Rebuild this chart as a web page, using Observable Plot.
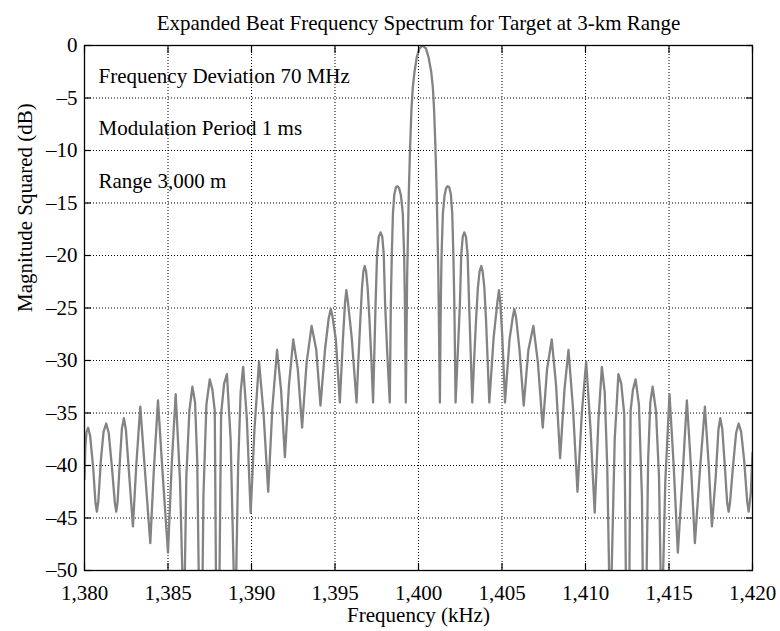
<!DOCTYPE html>
<html>
<head>
<meta charset="utf-8">
<script src="https://cdn.jsdelivr.net/npm/d3@7"></script>
<script src="https://cdn.jsdelivr.net/npm/@observablehq/plot@0.6"></script>
<style>
  html, body { margin: 0; padding: 0; background: #fff; }
  #chart { width: 780px; height: 631px; }
</style>
</head>
<body>
<div id="chart"></div>
<script>
// ---- data ----
const chartTitle = "Expanded Beat Frequency Spectrum for Target at 3-km Range";
const xLabel = "Frequency (kHz)";
const yLabel = "Magnitude Squared (dB)";
const notes = ["Frequency Deviation 70 MHz", "Modulation Period 1 ms", "Range 3,000 m"];
const xTicks = [1380, 1385, 1390, 1395, 1400, 1405, 1410, 1415, 1420];
const yTicks = [-50, -45, -40, -35, -30, -25, -20, -15, -10, -5, 0];

// frequency (kHz)
const freqKHz = [
  1380.00, 1380.05, 1380.12, 1380.22, 1380.34, 1380.52, 1380.66, 1380.74, 1380.83, 1380.98,
  1381.14, 1381.30, 1381.45, 1381.65, 1381.82, 1381.90, 1381.98, 1382.12, 1382.24, 1382.36,
  1382.48, 1382.68, 1382.90, 1383.10, 1383.34, 1383.62, 1383.94, 1384.15, 1384.40, 1384.68,
  1385.00, 1385.22, 1385.46, 1385.72, 1385.95, 1386.10, 1386.28, 1386.46, 1386.62, 1386.75,
  1386.97, 1387.12, 1387.30, 1387.50, 1387.66, 1387.80, 1387.96, 1388.18, 1388.36, 1388.53,
  1388.75, 1389.02, 1389.20, 1389.35, 1389.50, 1389.72, 1389.95, 1390.18, 1390.45, 1390.72,
  1391.00, 1391.25, 1391.53, 1391.77, 1392.00, 1392.24, 1392.50, 1392.77, 1393.03, 1393.30,
  1393.60, 1393.88, 1394.13, 1394.40, 1394.62, 1394.75, 1394.85, 1395.05, 1395.29, 1395.48,
  1395.60, 1395.68, 1395.78, 1396.00, 1396.29, 1396.40, 1396.52, 1396.62, 1396.70, 1396.78,
  1396.86, 1396.95, 1397.06, 1397.18, 1397.28, 1397.36, 1397.43, 1397.52, 1397.62, 1397.73,
  1397.83, 1397.92, 1398.00, 1398.12, 1398.28, 1398.34, 1398.40, 1398.47, 1398.55, 1398.65,
  1398.74, 1398.84, 1398.95, 1399.06, 1399.14, 1399.19, 1399.24, 1399.32, 1399.42, 1399.50,
  1399.58, 1399.66, 1399.76, 1399.90, 1400.05, 1400.25, 1400.45, 1400.60, 1400.76, 1400.86,
  1400.93, 1401.01, 1401.09, 1401.19, 1401.28, 1401.33, 1401.38, 1401.46, 1401.56, 1401.65,
  1401.74, 1401.84, 1401.94, 1402.02, 1402.09, 1402.15, 1402.22, 1402.36, 1402.48, 1402.56,
  1402.65, 1402.74, 1402.84, 1402.94, 1403.03, 1403.12, 1403.22, 1403.33, 1403.45, 1403.56,
  1403.66, 1403.76, 1403.84, 1403.94, 1404.04, 1404.14, 1404.24, 1404.50, 1404.72, 1404.82,
  1404.90, 1405.02, 1405.18, 1405.45, 1405.65, 1405.74, 1405.85, 1406.05, 1406.30, 1406.58,
  1406.88, 1407.15, 1407.44, 1407.70, 1407.98, 1408.24, 1408.48, 1408.74, 1408.98, 1409.25,
  1409.52, 1409.78, 1410.04, 1410.30, 1410.55, 1410.78, 1410.98, 1411.15, 1411.30, 1411.48,
  1411.75, 1411.97, 1412.14, 1412.32, 1412.54, 1412.70, 1412.84, 1413.00, 1413.20, 1413.38,
  1413.53, 1413.75, 1413.88, 1414.02, 1414.22, 1414.40, 1414.56, 1414.78, 1415.03, 1415.28,
  1415.53, 1415.82, 1416.07, 1416.33, 1416.55, 1416.85, 1417.15, 1417.38, 1417.57, 1417.80,
  1417.96, 1418.07, 1418.19, 1418.32, 1418.48, 1418.57, 1418.65, 1418.82, 1419.02, 1419.17,
  1419.32, 1419.50, 1419.68, 1419.77, 1419.90, 1420.00
];

// magnitude squared (dB)
const magDB = [
  -41.3, -38.2, -36.8, -36.4, -37.2, -40.2, -43.6, -44.4, -43.4, -39.5,
  -36.8, -36.0, -36.9, -40.3, -43.6, -44.4, -43.5, -39.5, -36.5, -35.5,
  -36.6, -41.0, -45.8, -40.0, -34.4, -40.5, -47.4, -40.5, -33.8, -40.8,
  -48.3, -40.0, -33.2, -41.5, -56.0, -41.0, -34.8, -32.5, -34.0, -39.5,
  -66.0, -43.0, -34.2, -31.8, -32.8, -34.8, -70.0, -35.1, -32.2, -31.3,
  -37.5, -56.0, -40.0, -33.0, -30.6, -35.5, -44.5, -36.5, -30.1, -35.0,
  -42.5, -34.5, -29.0, -32.8, -39.2, -32.4, -28.0, -30.8, -36.4, -30.2,
  -26.7, -29.0, -34.3, -29.0, -26.0, -25.1, -25.8, -28.0, -34.0, -27.8,
  -24.5, -23.3, -24.5, -27.8, -34.0, -30.0, -26.0, -23.0, -21.5, -21.0,
  -21.5, -23.0, -26.0, -30.0, -34.0, -29.0, -24.6, -19.9, -18.2, -17.8,
  -18.2, -19.9, -24.6, -29.0, -34.0, -25.0, -20.0, -16.0, -14.2, -13.5,
  -13.4, -13.6, -14.3, -16.0, -20.0, -25.0, -34.0, -22.0, -14.0, -9.5,
  -6.0, -4.0, -2.5, -1.1, -0.3, 0.0, -0.3, -1.1, -2.5, -4.0,
  -6.0, -9.5, -14.0, -22.0, -34.0, -25.0, -20.0, -16.0, -14.3, -13.6,
  -13.4, -13.5, -14.2, -16.0, -20.0, -25.0, -34.0, -29.0, -24.6, -19.9,
  -18.2, -17.8, -18.2, -19.9, -24.6, -29.0, -34.0, -30.0, -26.0, -23.0,
  -21.5, -21.0, -21.5, -23.0, -26.0, -30.0, -34.0, -27.8, -24.5, -23.3,
  -24.5, -27.8, -34.0, -28.0, -25.8, -25.1, -26.0, -29.0, -34.3, -29.0,
  -26.7, -30.2, -36.4, -30.8, -28.0, -32.4, -39.3, -32.8, -29.0, -34.5,
  -42.5, -35.0, -30.1, -36.5, -44.5, -35.5, -30.6, -33.0, -40.0, -56.0,
  -37.5, -31.3, -32.2, -35.1, -70.0, -34.8, -32.8, -31.8, -34.2, -43.0,
  -66.0, -39.5, -34.0, -32.5, -34.8, -41.0, -56.0, -41.5, -33.2, -40.0,
  -48.3, -40.8, -33.8, -40.5, -47.4, -40.5, -34.4, -40.0, -45.8, -41.0,
  -36.6, -35.5, -36.5, -39.5, -43.5, -44.4, -43.6, -40.3, -36.9, -36.0,
  -36.8, -39.5, -43.4, -44.4, -42.6, -38.8
];

// ---- build ----
const spectrum = freqKHz.map((f, i) => ({f, db: magDB[i]}));
const fmtX = d3.format(",");
const fmtY = d => d === 0 ? "0" : "\u2013" + Math.abs(d);
const serif = "'Liberation Serif', 'Times New Roman', Times, serif";
const grid = {stroke: "#000", strokeOpacity: 1, strokeWidth: 1, strokeDasharray: "1,2"};

const chart = Plot.plot({
  width: 780,
  height: 631,
  marginLeft: 84,
  marginRight: 28,
  marginTop: 45,
  marginBottom: 61,
  x: {domain: [1380, 1420]},
  y: {domain: [-50, 0]},
  style: {fontFamily: serif, fontSize: "21px", background: "#fff", color: "#000", overflow: "visible"},
  marks: [
    Plot.gridX(xTicks, grid),
    Plot.gridY(yTicks, grid),
    Plot.line(spectrum, {x: "f", y: "db", stroke: "#838383", strokeWidth: 2.3, clip: true}),
    Plot.axisX(xTicks, {anchor: "bottom", tickSize: -7, tickFormat: () => "", label: null, strokeWidth: 1.2}),
    Plot.axisX(xTicks, {anchor: "top", tickSize: -7, tickFormat: () => "", label: null, strokeWidth: 1.2}),
    Plot.axisY(yTicks, {anchor: "left", tickSize: -7, tickFormat: () => "", label: null, strokeWidth: 1.2}),
    Plot.axisY(yTicks, {anchor: "right", tickSize: -7, tickFormat: () => "", label: null, strokeWidth: 1.2}),
    Plot.frame({stroke: "#000", strokeWidth: 1.3}),
    Plot.text(xTicks, {x: d => d, text: d => fmtX(d), frameAnchor: "bottom", dy: 23, lineAnchor: "middle", fontSize: 21}),
    Plot.text(yTicks, {y: d => d, text: d => fmtY(d), frameAnchor: "left", textAnchor: "end", dx: -7, lineAnchor: "middle", fontSize: 21}),
    Plot.text([notes.join("\n")], {frameAnchor: "top-left", dx: 14, dy: 0, lineAnchor: "top", lineHeight: 2.5, fontSize: 21}),
    Plot.text([chartTitle], {frameAnchor: "top", dy: -22, lineAnchor: "middle", fontSize: 21}),
    Plot.text([xLabel], {frameAnchor: "bottom", dy: 45, lineAnchor: "middle", fontSize: 21}),
    Plot.text([yLabel], {frameAnchor: "left", dx: -59, dy: 4, rotate: -90, lineAnchor: "middle", fontSize: 21})
  ]
});
document.getElementById("chart").appendChild(chart);
</script>
</body>
</html>
